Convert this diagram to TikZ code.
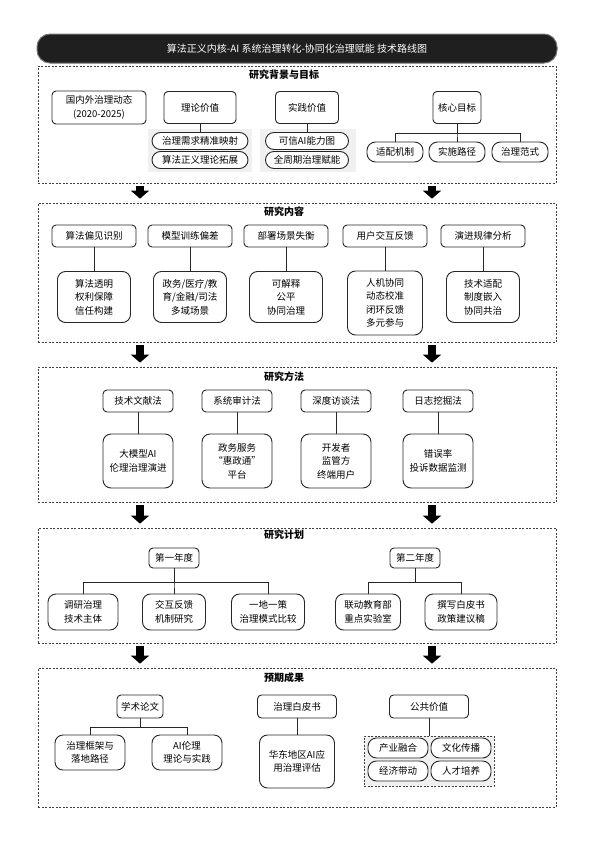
\documentclass[tikz,border=0pt]{standalone}
\usepackage{fontspec}
\setmainfont{Noto Sans CJK SC}
\usetikzlibrary{arrows.meta}

\begin{document}
\begin{tikzpicture}[x=1pt, y=-1pt,
  headbar/.style = {fill=black!88, draw=black!55, line width=1pt, rounded corners=13pt, text=white, minimum width=520pt, minimum height=29pt, font=\fontsize{10}{12}\selectfont},
  secbox/.style = {draw=black!75, dash pattern=on 2pt off 1.5pt, line width=0.7pt, minimum width=518pt},
  sectitle/.style = {font=\bfseries\fontsize{10}{12}\selectfont},
  topbox/.style = {draw=black!85, line width=0.9pt, rounded corners=4pt, fill=white, align=center, minimum height=22pt, inner sep=2pt, font=\fontsize{9.5}{13.5}\selectfont},
  subbox/.style = {topbox, rounded corners=8pt},
  pill/.style = {topbox, rounded corners=8.5pt, minimum height=17pt},
  grpbg/.style = {fill=black!6, draw=none},
  link/.style = {draw=black!85, line width=0.9pt},
  bigarrow/.style = {line width=8pt, -{Triangle[width=18pt,length=8pt]}}
]
\useasboundingbox (0,0) rectangle (594,841);

% title bar
\node[headbar] (head) at (297,48.5) {算法正义内核-AI 系统治理转化-协同化治理赋能 技术路线图};

% research background and goals
\node[secbox, minimum height=117pt] (bg) at (297,124.5) {};
\node[sectitle] (bgt) at (284,75) {研究背景与目标};
\node[topbox, minimum width=94pt, minimum height=33pt] (dyn) at (99,107.5) {国内外治理动态\\(2020-2025)};
\fill[black!6] (148,129) rectangle (252,172);
\fill[black!6] (260,129) rectangle (356,172);
\node[topbox, minimum width=72pt, minimum height=32pt] (theory) at (200,107.5) {理论价值};
\node[pill, minimum width=96pt] (tp1) at (200,141) {治理需求精准映射};
\node[pill, minimum width=96pt] (tp2) at (200,160) {算法正义理论拓展};
\draw[link] (theory.south) -- (tp1.north);
\node[topbox, minimum width=63pt, minimum height=32pt] (prac) at (307,107.5) {实践价值};
\node[pill, minimum width=83pt] (pp1) at (307,141) {可信AI能力图};
\node[pill, minimum width=83pt] (pp2) at (307,160) {全周期治理赋能};
\draw[link] (prac.south) -- (pp1.north);
\node[topbox, minimum width=48pt, minimum height=32pt] (core) at (457,107.5) {核心目标};
\node[pill, minimum width=56pt, minimum height=20pt] (cp1) at (395,152) {适配机制};
\node[pill, minimum width=56pt, minimum height=20pt] (cp2) at (457,152) {实施路径};
\node[pill, minimum width=56pt, minimum height=20pt] (cp3) at (520,152) {治理范式};
\foreach \c in {cp1,cp2,cp3}
\draw[link] (core.south) -- ++(0,9) -| (\c.north);

% research content
\node[secbox, minimum height=139pt] (cont) at (297,272.5) {};
\node[sectitle] (contt) at (284,212) {研究内容};
\node[topbox, minimum width=84pt] (k1) at (94,236) {算法偏见识别};
\node[topbox, minimum width=84pt] (k2) at (190,236) {模型训练偏差};
\node[topbox, minimum width=84pt] (k3) at (286,236) {部署场景失衡};
\node[topbox, minimum width=84pt] (k4) at (385,236) {用户交互反馈};
\node[topbox, minimum width=84pt] (k5) at (483,236) {演进规律分析};
\node[subbox, minimum width=73pt, minimum height=51pt] (d1) at (94,297) {算法透明\\权利保障\\信任构建};
\node[subbox, minimum width=73pt, minimum height=51pt] (d2) at (190,297) {政务/医疗/教\\育/金融/司法\\多域场景};
\node[subbox, minimum width=73pt, minimum height=51pt] (d3) at (286,297) {可解释\\公平\\协同治理};
\node[subbox, minimum width=75pt, minimum height=64pt] (d4) at (385,303) {人机协同\\动态校准\\闭环反馈\\多元参与};
\node[subbox, minimum width=73pt, minimum height=51pt] (d5) at (483,297) {技术适配\\制度嵌入\\协同共治};
\foreach \i in {1,...,5}
\draw[link] (k\i.south) -- (d\i.north);

% research methods
\node[secbox, minimum height=135pt] (meth) at (297,434.5) {};
\node[sectitle] (metht) at (284,377) {研究方法};
\node[topbox, minimum width=70pt] (m1) at (138,401) {技术文献法};
\node[topbox, minimum width=70pt] (m2) at (237,401) {系统审计法};
\node[topbox, minimum width=70pt] (m3) at (336,401) {深度访谈法};
\node[topbox, minimum width=70pt] (m4) at (438,401) {日志挖掘法};
\node[subbox, minimum width=70pt, minimum height=54pt] (n1) at (138,461) {大模型AI\\伦理治理演进};
\node[subbox, minimum width=70pt, minimum height=54pt] (n2) at (237,461) {政务服务\\“惠政通”\\平台};
\node[subbox, minimum width=70pt, minimum height=54pt] (n3) at (336,461) {开发者\\监管方\\终端用户};
\node[subbox, minimum width=70pt, minimum height=54pt] (n4) at (438,461) {错误率\\投诉数据监测};
\foreach \i in {1,...,4}
\draw[link] (m\i.south) -- (n\i.north);

% research plan
\node[secbox, minimum height=115pt] (plan) at (297,585.5) {};
\node[sectitle] (plant) at (284,535) {研究计划};
\node[topbox, minimum width=50pt, minimum height=20pt] (y1) at (174,558) {第一年度};
\node[subbox, minimum width=70pt, minimum height=36pt] (y1a) at (83,612) {调研治理\\技术主体};
\node[subbox, minimum width=63pt, minimum height=36pt] (y1b) at (174,612) {交互反馈\\机制研究};
\node[subbox, minimum width=73pt, minimum height=36pt] (y1c) at (268,612) {一地一策\\治理模式比较};
\foreach \c in {y1a,y1b,y1c}
\draw[link] (y1.south) -- ++(0,14) -| (\c.north);
\node[topbox, minimum width=50pt, minimum height=20pt] (y2) at (415,558) {第二年度};
\node[subbox, minimum width=65pt, minimum height=36pt] (y2a) at (368,612) {联动教育部\\重点实验室};
\node[subbox, minimum width=72pt, minimum height=36pt] (y2b) at (461,612) {撰写白皮书\\政策建议稿};
\foreach \c in {y2a,y2b}
\draw[link] (y2.south) -- ++(0,14) -| (\c.north);

% expected results
\node[secbox, minimum height=139pt] (res) at (297,737.5) {};
\node[sectitle] (rest) at (284,678) {预期成果};
\node[topbox, minimum width=46pt, minimum height=23pt] (pap) at (140,706.5) {学术论文};
\node[subbox, minimum width=70pt, minimum height=35pt] (pa1) at (90,752.5) {治理框架与\\落地路径};
\node[subbox, minimum width=70pt, minimum height=35pt] (pa2) at (187,752.5) {AI伦理\\理论与实践};
\foreach \c in {pa1,pa2}
\draw[link] (pap.south) -- ++(0,9) -| (\c.north);
\node[topbox, minimum width=79pt, minimum height=23pt] (wp) at (297,706.5) {治理白皮书};
\node[subbox, minimum width=75pt, minimum height=53pt] (wp1) at (297,761.5) {华东地区AI应\\用治理评估};
\draw[link] (wp.south) -- (wp1.north);
\node[topbox, minimum width=79pt, minimum height=23pt] (pub) at (429,706.5) {公共价值};
\node[secbox, grpbg, draw=black!75, minimum width=130pt, minimum height=50pt] (pubg) at (429,761) {};
\node[pill, minimum width=60pt, minimum height=20pt] (pv1) at (398,748) {产业融合};
\node[pill, minimum width=60pt, minimum height=20pt] (pv2) at (461,748) {文化传播};
\node[pill, minimum width=60pt, minimum height=20pt] (pv3) at (398,771) {经济带动};
\node[pill, minimum width=60pt, minimum height=20pt] (pv4) at (461,771) {人才培养};
\draw[link] (pub.south) -- (pubg.north);

% arrows between stages
\foreach \a/\b in {bg/cont,cont/meth,meth/plan,plan/res} {
\draw[bigarrow] ([xshift=-157pt,yshift=-3pt]\a.south) -- ([xshift=-157pt,yshift=4pt]\b.north);
\draw[bigarrow] ([xshift=135pt,yshift=-3pt]\a.south) -- ([xshift=135pt,yshift=4pt]\b.north);
}
\end{tikzpicture}
\end{document}
